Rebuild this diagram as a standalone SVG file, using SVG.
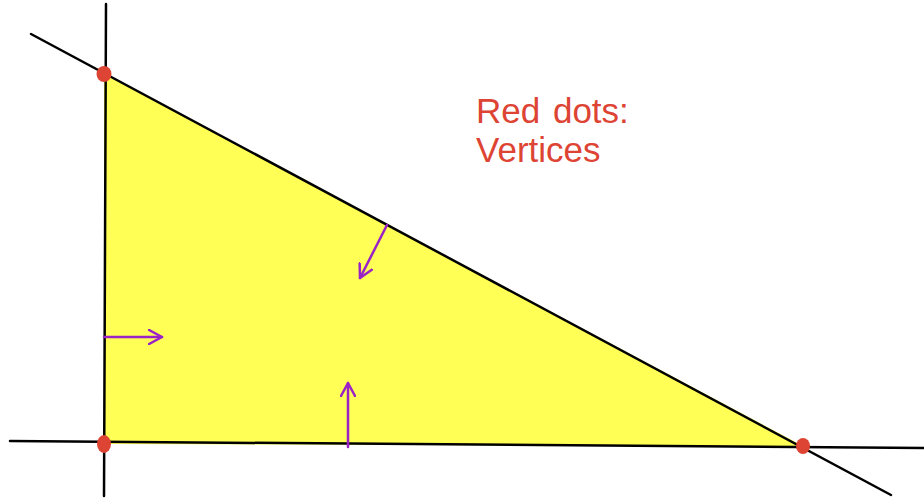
<svg xmlns="http://www.w3.org/2000/svg" width="924" height="499" viewBox="0 0 924 499">
<defs>
<style>
.ln{stroke:#000;stroke-width:2.5;fill:none;stroke-linecap:round}
.ar{stroke:#9A22C6;stroke-width:2.5;fill:none;stroke-linecap:round;stroke-linejoin:round}
.dot{fill:#DD4433}
.lbl{font-family:"Liberation Sans",Arial,sans-serif;font-size:35px;fill:#DD4433}
</style>
<marker id="ah" viewBox="0 0 16 16" refX="14" refY="8" markerWidth="16" markerHeight="16" markerUnits="userSpaceOnUse" orient="auto">
<path d="M1,1 L14,8 L1,15" fill="none" stroke="#9A22C6" stroke-width="2.5" stroke-linecap="round" stroke-linejoin="round"/>
</marker>
</defs>
<rect width="924" height="499" fill="#fff"/>
<g id="region">
<polygon points="104,74 803,446 104,444" fill="#FFFF55"/>
</g>
<g id="connectors">
<line class="ln" x1="106" y1="4" x2="104" y2="496"/>
<line class="ln" x1="31" y1="34" x2="891" y2="495"/>
<line class="ln" x1="10" y1="441" x2="924" y2="448"/>
<line class="ar" x1="104" y1="337" x2="162" y2="337" marker-end="url(#ah)"/>
<line class="ar" x1="348" y1="447" x2="348" y2="383" marker-end="url(#ah)"/>
<line class="ar" x1="387" y1="225" x2="360" y2="278" marker-end="url(#ah)"/>
</g>
<g id="v1"><ellipse class="dot" cx="104" cy="74" rx="7.5" ry="8"/></g>
<g id="v2"><ellipse class="dot" cx="104" cy="444" rx="7" ry="9"/></g>
<g id="v3"><ellipse class="dot" cx="803" cy="446" rx="7" ry="8"/></g>
<g id="label">
<text class="lbl" x="476" y="123" word-spacing="3">Red dots:</text>
<text class="lbl" x="476" y="162">Vertices</text>
</g>
</svg>
